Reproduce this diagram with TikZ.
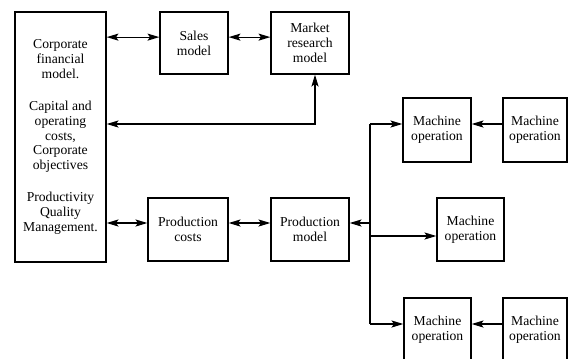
\documentclass[tikz,border=0pt]{standalone}
\usepackage{fontspec}
\setmainfont{Liberation Serif}
\usetikzlibrary{arrows.meta,calc,positioning}

\begin{document}
\begin{tikzpicture}[%
    x=0.85pt, y=-0.85pt,
    >={Stealth[length=10pt,width=6pt,inset=2pt]},
    line width=1pt,
    box/.style={draw, line width=1.2pt, inner sep=1pt, align=center,
      font=\fontsize{11.6}{12.7}\selectfont},
    boxsize/.style 2 args={minimum width=#1*0.85pt, minimum height=#2*0.85pt}
  ]
  \useasboundingbox (0,0) rectangle (569,358);
  \clip (0,0) rectangle (569,358);

  % models
  \node[box, boxsize={91}{250}] (fin) at (60.5,137) {Corporate\\financial\\model.\\[14pt]%
    Capital and\\operating\\costs,\\Corporate\\objectives\\[14pt]%
    Productivity\\Quality\\Management.};
  \node[box, boxsize={68}{62}] (sales) at (194,43) {Sales\\model};
  \node[box, boxsize={78}{62}] (market) at (310,43) {Market\\research\\model};
  \node[box, boxsize={80}{63}] (pcost) at (188,229.5) {Production\\costs};
  \node[box, boxsize={78}{63}] (pmodel) at (310,229.5) {Production\\model};

  % machines
  \node[box, boxsize={68}{64}] (m1) at (437,130) {Machine\\operation};
  \node[box, boxsize={64}{64}] (m2) at (535,130) {Machine\\operation};
  \node[box, boxsize={67}{63}] (m3) at (470.5,229.5) {Machine\\operation};
  \node[box, boxsize={67}{64}] (m4) at (437.5,330) {Machine\\operation};
  \node[box, boxsize={64}{64}] (m5) at (535,330) {Machine\\operation};

  \coordinate (upper) at (370,124);
  \coordinate (junc) at (370,223);
  \coordinate (mid) at (370,236);
  \coordinate (lower) at (370,324);

  \draw[<->] ([yshift=5pt]sales.west -| fin.east) -- ([yshift=5pt]sales.west);
  \draw[<->] ([yshift=5pt]sales.east) -- ([yshift=5pt]market.west);
  \draw[<->] ([xshift=4.25pt]market.south) |- (fin.east |- upper);
  \draw[<->] (fin.east |- junc) -- (pcost.west |- junc);
  \draw[<->] (pcost.east |- junc) -- (pmodel.west |- junc);
  \draw[->] (junc) -- (pmodel.east |- junc);

  \draw (upper) -- (lower);
  \draw[->] (upper) -- (m1.west |- upper);
  \draw[->] (mid) -- (m3.west |- mid);
  \draw[->] (lower) -- (m4.west |- lower);
  \draw[->] (m2.west |- upper) -- (m1.east |- upper);
  \draw[->] (m5.west |- lower) -- (m4.east |- lower);

\end{tikzpicture}
\end{document}
